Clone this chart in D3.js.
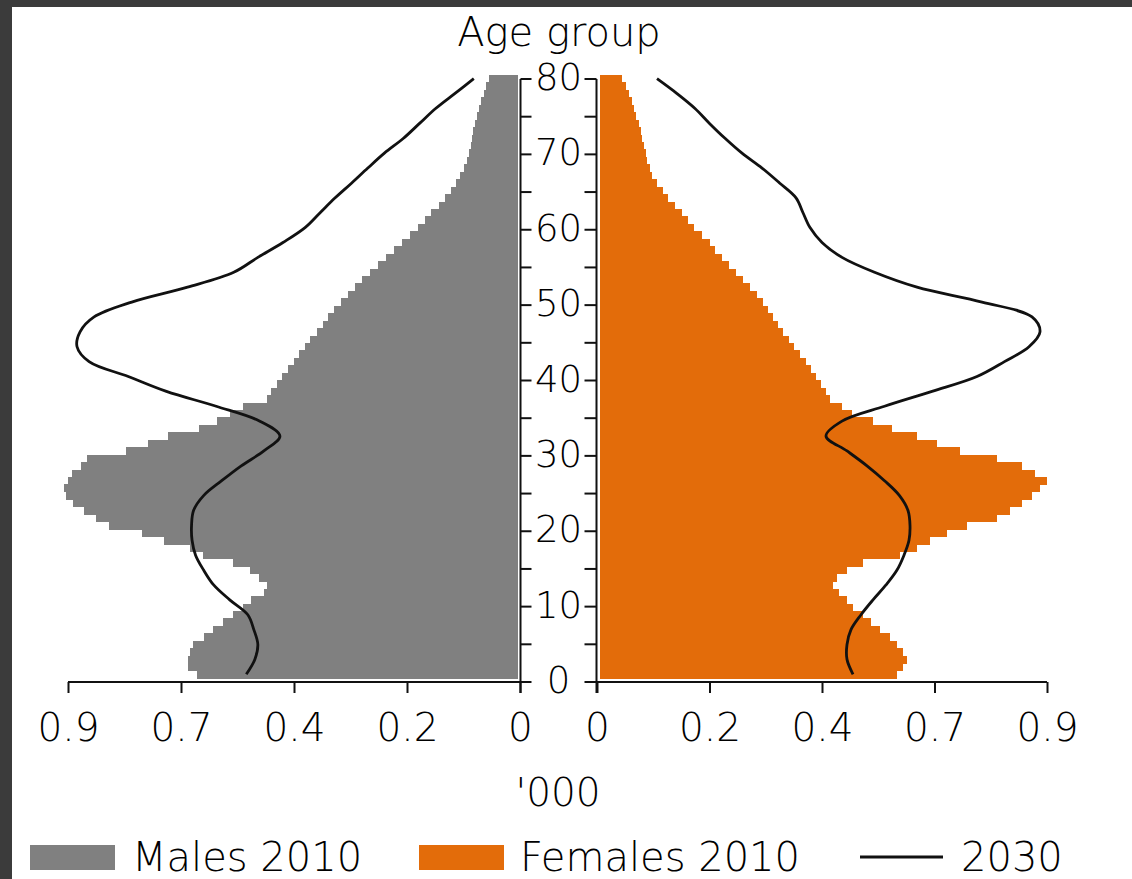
<!DOCTYPE html>
<html><head><meta charset="utf-8">
<script src="https://cdn.jsdelivr.net/npm/d3@7"></script>
<style>
html,body{margin:0;padding:0;background:#3b3b3b;}
svg{display:block;}
text{font-family:"DejaVu Sans",Verdana,sans-serif;font-weight:200;fill:#000;}
</style></head><body>
<svg id="c" width="1132" height="879"></svg>
<script>
// ---- data ----
const ages = [0,1,2,3,4,5,6,7,8,9,10,11,12,13,14,15,16,17,18,19,20,21,22,23,24,25,26,27,28,29,30,
  31,32,33,34,35,36,37,38,39,40,41,42,43,44,45,46,47,48,49,50,51,52,53,54,55,56,57,58,59,60,
  61,62,63,64,65,66,67,68,69,70,71,72,73,74,75,76,77,78,79,80];
const males2010 = [0.644,0.662,0.662,0.658,0.652,0.630,0.612,0.592,0.572,0.552,0.535,0.510,0.504,0.520,0.538,
  0.572,0.632,0.658,0.708,0.752,0.818,0.845,0.868,0.890,0.904,0.908,0.900,0.892,0.875,0.862,0.784,
  0.740,0.700,0.640,0.604,0.578,0.552,0.504,0.495,0.484,0.474,0.462,0.450,0.440,0.429,0.418,0.404,
  0.393,0.382,0.370,0.356,0.342,0.328,0.314,0.298,0.282,0.266,0.250,0.235,0.220,0.204,0.190,0.178,
  0.162,0.150,0.138,0.128,0.120,0.112,0.105,0.102,0.098,0.095,0.093,0.090,0.086,0.082,0.078,0.072,0.068,0.062];
const females2010 = [0.600,0.612,0.620,0.612,0.600,0.586,0.566,0.548,0.532,0.512,0.500,0.484,0.472,0.480,0.500,
  0.532,0.606,0.640,0.666,0.700,0.740,0.800,0.826,0.850,0.870,0.886,0.900,0.875,0.850,0.800,0.726,
  0.680,0.640,0.590,0.552,0.510,0.490,0.466,0.458,0.448,0.438,0.428,0.418,0.406,0.394,0.384,0.372,
  0.362,0.352,0.342,0.332,0.320,0.305,0.292,0.278,0.264,0.250,0.235,0.226,0.210,0.194,0.182,0.170,
  0.155,0.142,0.132,0.120,0.110,0.105,0.100,0.097,0.094,0.090,0.087,0.084,0.077,0.074,0.070,0.064,0.058,0.050];
const ages2030 = [0,2,4,6,8,10,12,14,16,18,20,22,24,26,28,30,32,34,36,38,40,
  42,44,46,48,50,52,54,56,58,60,62,64,66,68,70,72,74,76,78,80];
const males2030 = [0.545,0.528,0.522,0.530,0.542,0.578,0.610,0.630,0.646,0.653,0.654,0.650,0.630,0.594,0.555,
  0.510,0.478,0.518,0.605,0.704,0.780,0.858,0.882,0.876,0.848,0.773,0.662,0.570,0.522,0.472,0.428,
  0.398,0.368,0.335,0.303,0.270,0.232,0.200,0.168,0.130,0.092];
const females2030 = [0.512,0.500,0.500,0.508,0.528,0.552,0.578,0.600,0.614,0.624,0.626,0.622,0.605,0.575,0.540,
  0.500,0.458,0.490,0.575,0.670,0.760,0.815,0.864,0.886,0.870,0.770,0.640,0.555,0.490,0.450,0.426,
  0.412,0.398,0.365,0.330,0.290,0.256,0.225,0.196,0.160,0.120];
const xTickValues = [0, 0.225, 0.45, 0.675, 0.9];
const xTickLabels = ["0", "0.2", "0.4", "0.7", "0.9"];
const yTickValues = [0,5,10,15,20,25,30,35,40,45,50,55,60,65,70,75,80];
const yLabelValues = [0,10,20,30,40,50,60,70,80];
const legendLabels = ["Males 2010", "Females 2010", "2030"];
const yAxisTitle = "Age group";
const xAxisTitle = "'000";

// ---- drawing ----
const GRAY = "#808080", ORANGE = "#e36c0a", INK = "#111";
const svg = d3.select("#c");
svg.append("rect").attr("x", 12).attr("y", 7).attr("width", 1120).attr("height", 872).attr("fill", "#fff");

const xM = d3.scaleLinear().domain([0, 0.9]).range([520, 68]);
const xF = d3.scaleLinear().domain([0, 0.9]).range([597, 1047]);
const yBand = d3.scaleBand().domain(ages).range([678, 75]);
const yTick = d3.scaleLinear().domain([0, 80]).range([682, 79]);
const yc = a => yBand(a) + yBand.bandwidth() / 2;

const gap = 2.5;
// bars
svg.append("g").attr("shape-rendering", "crispEdges").selectAll("rect").data(ages).join("rect")
  .attr("x", (a, i) => xM(males2010[i]))
  .attr("y", a => yBand(a))
  .attr("width", (a, i) => xM(0) - gap - xM(males2010[i]))
  .attr("height", yBand.bandwidth() + 0.5)
  .attr("fill", GRAY);
svg.append("g").attr("shape-rendering", "crispEdges").selectAll("rect").data(ages).join("rect")
  .attr("x", xF(0) + gap)
  .attr("y", a => yBand(a))
  .attr("width", (a, i) => xF(females2010[i]) - xF(0) - gap)
  .attr("height", yBand.bandwidth() + 0.5)
  .attr("fill", ORANGE);

// 2030 lines
const lineM = d3.line().x((a, i) => xM(males2030[i])).y(a => yc(a)).curve(d3.curveCatmullRom);
const lineF = d3.line().x((a, i) => xF(females2030[i])).y(a => yc(a)).curve(d3.curveCatmullRom);
svg.append("path").attr("d", lineM(ages2030)).attr("fill", "none").attr("stroke", INK).attr("stroke-width", 2.8);
svg.append("path").attr("d", lineF(ages2030)).attr("fill", "none").attr("stroke", INK).attr("stroke-width", 2.8);

// x axes
const axisY = yTick(0);
const xAxL = d3.axisBottom(xM).tickValues(xTickValues).tickSize(11).tickPadding(20)
  .tickFormat((d, i) => xTickLabels[i]);
const xAxR = d3.axisBottom(xF).tickValues(xTickValues).tickSize(11).tickPadding(20)
  .tickFormat((d, i) => xTickLabels[i]);
[xAxL, xAxR].forEach(ax => {
  const g = svg.append("g").attr("transform", `translate(0,${axisY})`).call(ax);
  g.select(".domain").remove();
  g.selectAll(".tick line").attr("stroke", INK).attr("stroke-width", 2);
  g.selectAll(".tick text").attr("font-size", 39).attr("font-family", "DejaVu Sans").attr("font-weight", 200)
    .attr("fill", "#000").attr("dy", "0.71em");
});
svg.append("line").attr("x1", xM(0.9)).attr("x2", xM(0) + 0.5).attr("y1", axisY).attr("y2", axisY)
  .attr("stroke", INK).attr("stroke-width", 2);
svg.append("line").attr("x1", xF(0) - 0.5).attr("x2", xF(0.9)).attr("y1", axisY).attr("y2", axisY)
  .attr("stroke", INK).attr("stroke-width", 2);

// vertical age axis (two spines)
const sL = xM(0) + 0.5, sR = xF(0) - 0.5;
[sL, sR].forEach(x => svg.append("line").attr("x1", x).attr("x2", x)
  .attr("y1", yTick(80)).attr("y2", axisY + 11).attr("stroke", INK).attr("stroke-width", 2));
svg.append("g").selectAll("line.tl").data(yTickValues).join("line")
  .attr("x1", sL).attr("x2", sL + 11).attr("y1", d => yTick(d)).attr("y2", d => yTick(d))
  .attr("stroke", INK).attr("stroke-width", 2);
svg.append("g").selectAll("line.tr").data(yTickValues).join("line")
  .attr("x1", sR).attr("x2", sR - 12).attr("y1", d => yTick(d)).attr("y2", d => yTick(d))
  .attr("stroke", INK).attr("stroke-width", 2);
svg.append("g").selectAll("text").data(yLabelValues).join("text")
  .attr("x", (sL + sR) / 2).attr("y", d => yTick(d) + 11)
  .attr("text-anchor", "middle").attr("font-size", 37).text(d => d);

// titles
svg.append("text").attr("x", 559).attr("y", 46).attr("text-anchor", "middle").attr("font-size", 40).text(yAxisTitle);
svg.append("text").attr("x", 558).attr("y", 806).attr("text-anchor", "middle").attr("font-size", 39).text(xAxisTitle);

// legend
const lg = svg.append("g");
lg.append("rect").attr("x", 30).attr("y", 845).attr("width", 85).attr("height", 25).attr("fill", GRAY);
lg.append("text").attr("x", 132).attr("y", 871).attr("font-size", 40).text(legendLabels[0]);
lg.append("rect").attr("x", 419).attr("y", 845).attr("width", 85).attr("height", 25).attr("fill", ORANGE);
lg.append("text").attr("x", 520).attr("y", 871).attr("font-size", 40).text(legendLabels[1]);
lg.append("line").attr("x1", 860).attr("x2", 943).attr("y1", 857).attr("y2", 857).attr("stroke", INK).attr("stroke-width", 3);
lg.append("text").attr("x", 961).attr("y", 871).attr("font-size", 40).text(legendLabels[2]);
</script>
</body></html>
